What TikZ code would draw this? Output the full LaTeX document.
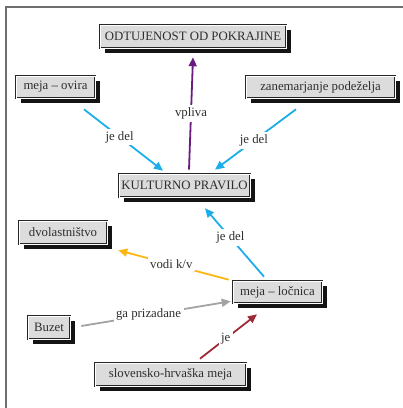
\documentclass[tikz,border=0pt]{standalone}
\usepackage{fontspec}
\setmainfont{Liberation Serif}
\usetikzlibrary{arrows.meta,shadows,calc}

\definecolor{boxgray}{HTML}{DCDCDC}
\definecolor{textgray}{HTML}{2E2E2E}
\definecolor{framegray}{HTML}{6E6E6E}
\definecolor{cyanlink}{HTML}{1CAEE8}
\definecolor{purplelink}{HTML}{6A1B80}
\definecolor{orangelink}{HTML}{FDB714}
\definecolor{graylink}{HTML}{A3A3A3}
\definecolor{redlink}{HTML}{9E2A36}

\begin{document}
\begin{tikzpicture}[
  x=1pt, y=-1pt,
  font=\fontsize{12.8}{15}\selectfont,
  concept/.style={draw=black!85, line width=0.6pt, double=white,
    double distance=0.7pt, fill=boxgray, text=textgray, inner sep=0pt,
    drop shadow={shadow xshift=5pt, shadow yshift=-4.5pt,
      fill=black!92, opacity=1}},
  link/.style={line width=1.8pt, -{Triangle[length=9pt,width=8pt]}},
  linklabel/.style={fill=white, inner sep=2.5pt, text=textgray}
]
\useasboundingbox (0,0) rectangle (403,408);

% outer frame (top and left edges)
\draw[framegray, line width=1.6pt] (403,7) -- (6,7) -- (6,408);

% concepts
\node[concept, minimum width=186pt, minimum height=23pt] (odt)   at (193,36.5)  {ODTUJENOST OD POKRAJINE};
\node[concept, minimum width=79pt,  minimum height=22pt] (ovira) at (55.5,87)   {meja -- ovira};
\node[concept, minimum width=149pt, minimum height=22pt] (zanem) at (320.5,87)  {zanemarjanje podeželja};
\node[concept, minimum width=131pt, minimum height=23pt] (kult)  at (184.5,185.5) {KULTURNO PRAVILO};
\node[concept, minimum width=88pt,  minimum height=23pt] (dvol)  at (63,232.5)  {dvolastništvo};
\node[concept, minimum width=89pt,  minimum height=22pt] (locn)  at (277.5,292)  {meja -- ločnica};
\node[concept, minimum width=42pt,  minimum height=23pt] (buzet) at (49,327.5)  {Buzet};
\node[concept, minimum width=151pt, minimum height=23pt] (slov)  at (170.5,374.5) {slovensko-hrvaška meja};

% links
\draw[link, purplelink] ($(kult.north)+(4.5,-4)$) -- node[linklabel, pos=0.5] {vpliva} ($(odt.south)+(0,9)$);
\draw[link, cyanlink] ($(ovira.south)+(28.5,11)$) -- node[linklabel, pos=0.45] {je del} ($(kult.north)+(-21.5,-3)$);
\draw[link, cyanlink] ($(zanem.south)+(-24.5,11)$) -- node[linklabel, pos=0.52] {je del} ($(kult.north)+(30.5,-4)$);
\draw[link, cyanlink] ($(locn.north)+(-13.5,-4)$) -- node[linklabel, pos=0.57] {je del} ($(kult.south)+(20.5,11)$);
\draw[link, orangelink] ($(locn.north west)+(-4,-1)$) -- node[linklabel, pos=0.52] {vodi k/v} ($(dvol.south east)+(11,6)$);
\draw[link, graylink] ($(buzet.east)+(11,-1.5)$) -- node[linklabel, pos=0.45] {ga prizadane} ($(locn.south west)+(-2,-2)$);
\draw[link, redlink] ($(slov.north)+(29.5,-4)$) -- node[linklabel, pos=0.45] {je} ($(locn.south)+(-20.5,11)$);
\end{tikzpicture}
\end{document}
